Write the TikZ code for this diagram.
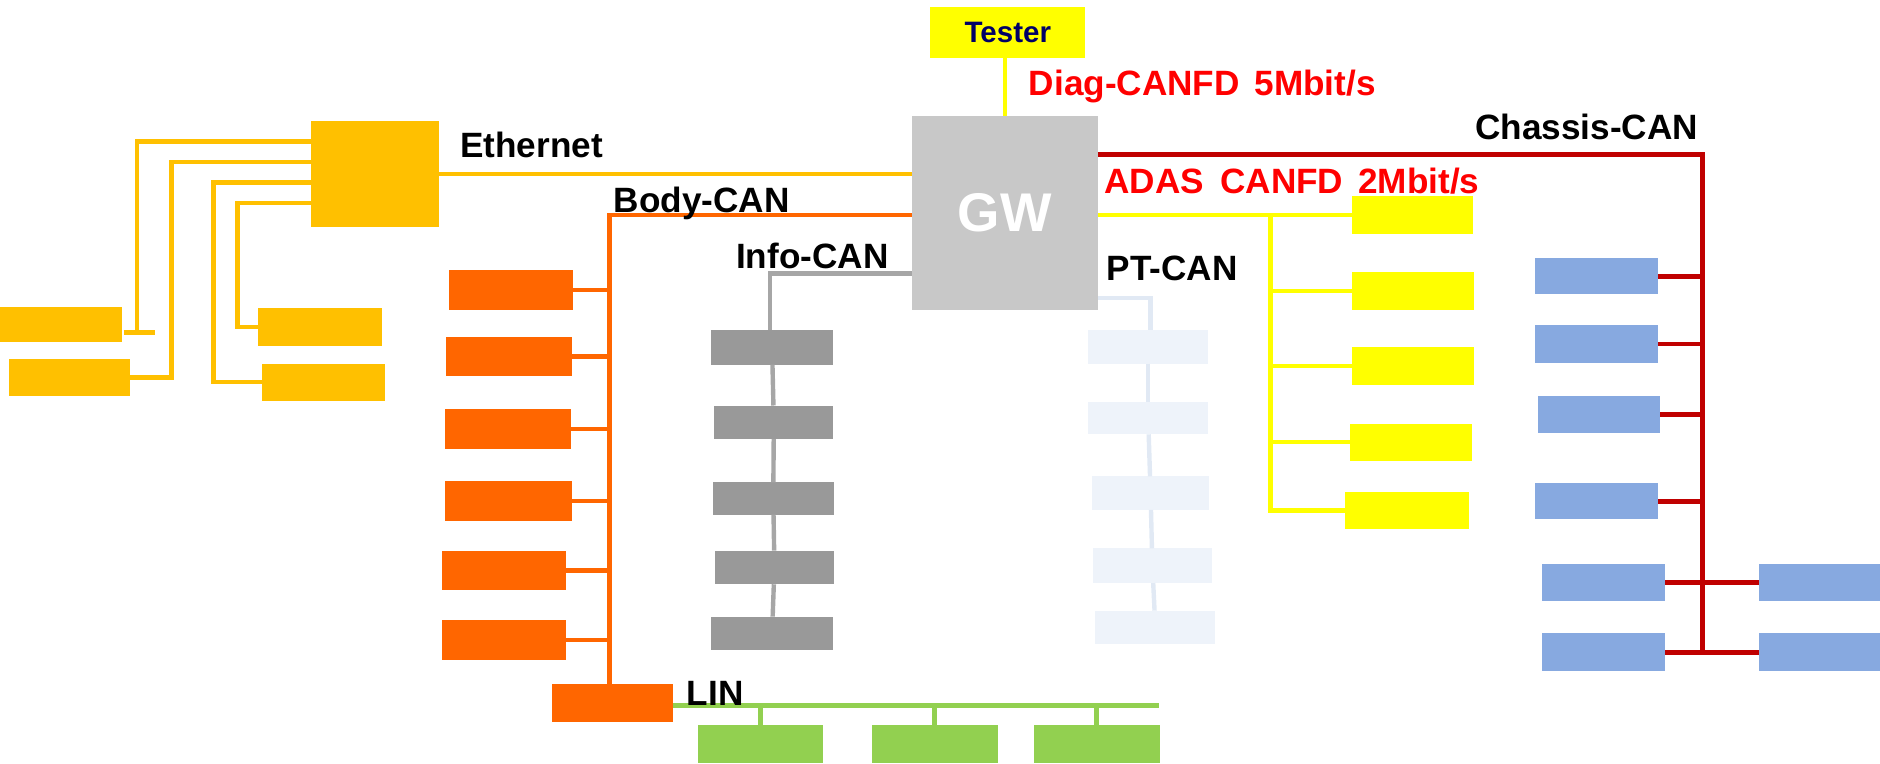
\documentclass[tikz,border=0pt]{standalone}
\usepackage{fontspec}
\setmainfont{Liberation Sans}
\definecolor{ethcol}{HTML}{FFC000}
\definecolor{bodycol}{HTML}{FF6600}
\definecolor{infobox}{HTML}{999999}
\definecolor{infoline}{HTML}{A6A6A6}
\definecolor{ptbox}{HTML}{EEF3FA}
\definecolor{ptline}{HTML}{E1E9F4}
\definecolor{adascol}{HTML}{FFFF00}
\definecolor{chascol}{HTML}{C00000}
\definecolor{chasbox}{HTML}{87A9E0}
\definecolor{lincol}{HTML}{92D050}
\definecolor{gwcol}{HTML}{C8C8C8}
\definecolor{navytext}{HTML}{000066}
\definecolor{redtext}{HTML}{FF0000}
\tikzset{
	ecu/.style 2 args={rectangle, inner sep=0pt, outer sep=0pt, minimum width=#1*0.012cm, minimum height=#2*0.012cm},
	bus/.style={line width=1.25pt},
	lbl/.style={inner sep=0pt, font=\bfseries\fontsize{10}{12}\selectfont},
}
\begin{document}
\begin{tikzpicture}[x=0.012cm, y=-0.012cm]
		\useasboundingbox (0,0) rectangle (1567,636);
		\node[ecu={155}{162}, fill=gwcol, text=white, font=\bfseries\fontsize{15.5}{18}\selectfont] (gw) at (837.5,177.5) {GW};
		\node[ecu={129}{42}, fill=adascol, text=navytext, font=\bfseries\fontsize{8.4}{10}\selectfont] (tester) at (840,27) {Tester};
		\draw[bus, adascol] (gw.north) -- (gw.north |- tester.south);

		\node[ecu={107}{88}, fill=ethcol] (hub) at (312.5,145) {};
		\node[ecu={102}{29}, fill=ethcol] (e1) at (51,270.5) {};
		\node[ecu={101}{31}, fill=ethcol] (e2) at (58,314.5) {};
		\node[ecu={103}{31}, fill=ethcol] (e3) at (266.5,272.5) {};
		\node[ecu={103}{31}, fill=ethcol] (e4) at (269.5,318.5) {};
		\coordinate (e1end) at (114,277);
		\coordinate (ek1) at (114,118);
		\coordinate (ek2) at (143,135);
		\coordinate (ek3) at (178,152);
		\coordinate (ek4) at (198,169);
		\draw[bus, ethcol] (e1end) -- (ek1) -- (ek1 -| hub.west);
		\draw[bus, ethcol] (e1end) ++(-11,0) -- ++(26,0);
		\draw[bus, ethcol] (e2.east) -| (ek2) -- (ek2 -| hub.west);
		\draw[bus, ethcol] (e4.west) -| (ek3) -- (ek3 -| hub.west);
		\draw[bus, ethcol] (e3.west) -| (ek4) -- (ek4 -| hub.west);
		\draw[bus, ethcol] (hub.east) -- (hub.east -| gw.west);

		\node[ecu={104}{33}, fill=bodycol] (b1) at (426,241.5) {};
		\node[ecu={105}{32}, fill=bodycol] (b2) at (424.5,297) {};
		\node[ecu={105}{33}, fill=bodycol] (b3) at (423.5,357.5) {};
		\node[ecu={106}{33}, fill=bodycol] (b4) at (424,417.5) {};
		\node[ecu={104}{33}, fill=bodycol] (b5) at (420,475.5) {};
		\node[ecu={104}{33}, fill=bodycol] (b6) at (420,533.5) {};
		\node[ecu={101}{32}, fill=bodycol] (linm) at (510.5,586) {};
		\coordinate (bodyk) at (508,179);
		\draw[bus, bodycol] (gw.west |- bodyk) -- (bodyk) -- (bodyk |- linm.north);
		\draw[bus, bodycol] (b1.east) -- (b1.east -| bodyk);
		\draw[bus, bodycol] (b2.east) -- (b2.east -| bodyk);
		\draw[bus, bodycol] (b3.east) -- (b3.east -| bodyk);
		\draw[bus, bodycol] (b4.east) -- (b4.east -| bodyk);
		\draw[bus, bodycol] (b5.east) -- (b5.east -| bodyk);
		\draw[bus, bodycol] (b6.east) -- (b6.east -| bodyk);

		\node[ecu={101}{29}, fill=infobox] (i1) at (643.5,289.5) {};
		\node[ecu={99}{28}, fill=infobox] (i2) at (645,352) {};
		\node[ecu={101}{27}, fill=infobox] (i3) at (644.5,415.5) {};
		\node[ecu={99}{28}, fill=infobox] (i4) at (645.5,473) {};
		\node[ecu={101}{28}, fill=infobox] (i5) at (643.5,528) {};
		\coordinate (infok) at (642,228);
		\draw[bus, infoline] (gw.west |- infok) -- (infok) -- (infok |- i1.north);
		\draw[bus, infoline] (i1) -- (i2);
		\draw[bus, infoline] (i2) -- (i3);
		\draw[bus, infoline] (i3) -- (i4);
		\draw[bus, infoline] (i4) -- (i5);

		\node[ecu={100}{28}, fill=ptbox] (p1) at (957,289) {};
		\node[ecu={100}{27}, fill=ptbox] (p2) at (957,348.5) {};
		\node[ecu={98}{28}, fill=ptbox] (p3) at (959,411) {};
		\node[ecu={99}{29}, fill=ptbox] (p4) at (960.5,471.5) {};
		\node[ecu={100}{28}, fill=ptbox] (p5) at (963,523) {};
		\coordinate (ptk) at (959,248.6);
		\draw[bus, ptline] (gw.east |- ptk) -- (ptk) -- (ptk |- p1.north);
		\draw[bus, ptline] (p1) -- (p2);
		\draw[bus, ptline] (p2) -- (p3);
		\draw[bus, ptline] (p3) -- (p4);
		\draw[bus, ptline] (p4) -- (p5);

		\node[ecu={101}{32}, fill=adascol] (a1) at (1177.5,179) {};
		\node[ecu={102}{31}, fill=adascol] (a2) at (1177.5,242.5) {};
		\node[ecu={102}{32}, fill=adascol] (a3) at (1177.5,305) {};
		\node[ecu={102}{31}, fill=adascol] (a4) at (1176,368.5) {};
		\node[ecu={103}{31}, fill=adascol] (a5) at (1172.5,425.5) {};
		\coordinate (adask) at (1059,179);
		\draw[bus, adascol] (gw.east |- a1.west) -- (a1.west);
		\draw[bus, adascol] (adask) |- (a5.west);
		\draw[bus, adascol] (a2.west) -- (a2.west -| adask);
		\draw[bus, adascol] (a3.west) -- (a3.west -| adask);
		\draw[bus, adascol] (a4.west) -- (a4.west -| adask);

		\node[ecu={103}{30}, fill=chasbox] (c1) at (1330.5,230.4) {};
		\node[ecu={103}{31}, fill=chasbox] (c2) at (1330.5,286.7) {};
		\node[ecu={102}{31}, fill=chasbox] (c3) at (1333,345.5) {};
		\node[ecu={103}{30}, fill=chasbox] (c4) at (1330.5,418) {};
		\node[ecu={103}{31}, fill=chasbox] (c5) at (1336.5,485.5) {};
		\node[ecu={103}{31}, fill=chasbox] (c6) at (1336.5,543.5) {};
		\node[ecu={102}{31}, fill=chasbox] (c7) at (1517,485.5) {};
		\node[ecu={102}{31}, fill=chasbox] (c8) at (1517,543.5) {};
		\coordinate (chask) at (1419,128.5);
		\draw[bus, chascol, line width=1.4pt] (gw.east |- chask) -- (chask) -- (chask |- c6.east);
		\draw[bus, chascol, line width=1.4pt] (c1.east) -- (c1.east -| chask);
		\draw[bus, chascol, line width=1.4pt] (c2.east) -- (c2.east -| chask);
		\draw[bus, chascol, line width=1.4pt] (c3.east) -- (c3.east -| chask);
		\draw[bus, chascol, line width=1.4pt] (c4.east) -- (c4.east -| chask);
		\draw[bus, chascol, line width=1.4pt] (c5.east) -- (c7.west);
		\draw[bus, chascol, line width=1.4pt] (c6.east) -- (c8.west);

		\node[ecu={104}{32}, fill=lincol] (lin1) at (634,620) {};
		\node[ecu={105}{32}, fill=lincol] (lin2) at (779,620) {};
		\node[ecu={105}{32}, fill=lincol] (lin3) at (914,620) {};
		\coordinate (linend) at (966,588);
		\draw[bus, lincol] (linm.east |- linend) -- (linend);
		\draw[bus, lincol] (lin1.north) -- (lin1.north |- linend);
		\draw[bus, lincol] (lin2.north) -- (lin2.north |- linend);
		\draw[bus, lincol] (lin3.north) -- (lin3.north |- linend);

		\node[lbl, anchor=base west] (ethlbl) at (383,131) {Ethernet};
		\node[lbl, anchor=base west] (bodylbl) at (511,177) {Body-CAN};
		\node[lbl, anchor=base west] (infolbl) at (613,224) {Info-CAN};
		\node[lbl, anchor=base west] (ptlbl) at (922,234) {PT-CAN};
		\node[lbl, anchor=base east] (chaslbl) at (1416,116) {Chassis-CAN};
		\node[lbl, anchor=base west] (linlbl) at (572,588) {LIN};
		\node[lbl, anchor=base west, text=redtext] (diaglbl) at (857,80) {Diag-CANFD\hspace{4.2pt}5Mbit/s};
		\node[lbl, anchor=base west, text=redtext] (adaslbl) at (920,161) {ADAS\hspace{4.6pt}CANFD\hspace{4.3pt}2Mbit/s};
\end{tikzpicture}
\end{document}
